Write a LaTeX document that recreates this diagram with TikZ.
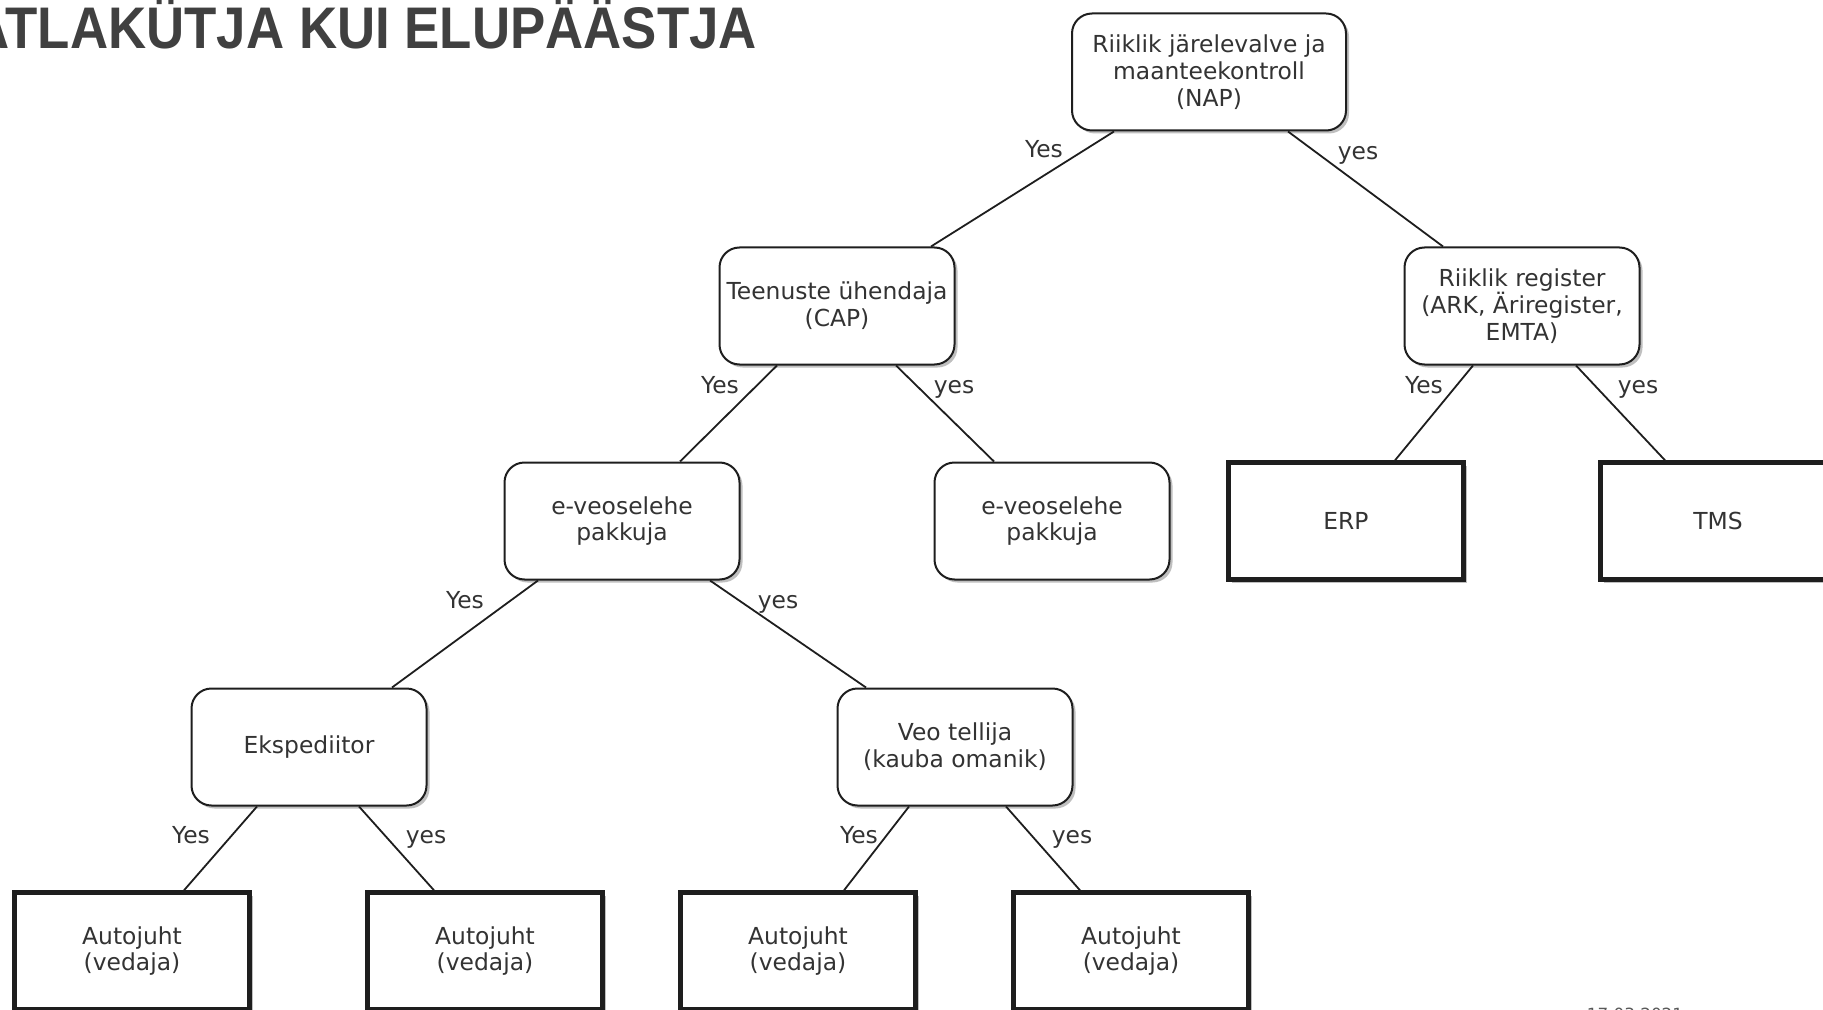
\documentclass[tikz,border=0pt]{standalone}
\usepackage{fontspec}
\setmainfont{DejaVu Sans}
\newfontfamily\titlefont{Liberation Sans}
\usetikzlibrary{calc,shadows}

\definecolor{inkgray}{HTML}{333333}
\definecolor{linegray}{HTML}{1E1E1E}
\definecolor{titlegray}{HTML}{404040}

\newcommand{\boxfont}{\fontsize{11.7}{13.4}\selectfont}

\tikzset{
  decision/.style={draw=linegray, line width=1pt, rounded corners=10pt, fill=white,
    minimum width=117.5pt, minimum height=58.5pt, align=center, text=inkgray,
    font=\boxfont, inner sep=2pt,
    drop shadow={shadow xshift=1.5pt, shadow yshift=-1.5pt, opacity=0.25, fill=black}},
  leaf/.style={decision, sharp corners, line width=2.2pt},
  edge/.style={draw=linegray, line width=0.9pt},
  lbl/.style={text=inkgray, font=\boxfont, inner sep=0pt}
}

\begin{document}
\begin{tikzpicture}[x=0.5pt,y=-0.5pt]
\useasboundingbox (0,0) rectangle (1823,1010);

% title, cut at the left edge
\node[anchor=base west, inner sep=0pt, text=titlegray] (title) at (-29,49)
  {\scalebox{0.9}[1]{\titlefont\bfseries\fontsize{29.35}{30}\selectfont ATLAKÜTJA KUI ELUPÄÄSTJA}};

% boxes
\node[decision, minimum width=137pt] (nap) at (1209,72) {Riiklik järelevalve ja\\maanteekontroll\\(NAP)};
\node[decision] (cap) at (837,306) {Teenuste ühendaja\\(CAP)};
\node[decision] (reg) at (1522,306) {Riiklik register\\(ARK, Äriregister,\\EMTA)};
\node[decision] (eveoa) at (622,521) {e-veoselehe\\pakkuja};
\node[decision] (eveob) at (1052,521) {e-veoselehe\\pakkuja};
\node[leaf] (erp) at (1346,521) {ERP};
\node[leaf] (tms) at (1718,521) {TMS};
\node[decision] (eksp) at (309,747) {Ekspediitor};
\node[decision] (veo) at (955,747) {Veo tellija\\(kauba omanik)};
\node[leaf] (aj1) at (132,951) {Autojuht\\(vedaja)};
\node[leaf] (aj2) at (485,951) {Autojuht\\(vedaja)};
\node[leaf] (aj3) at (798,951) {Autojuht\\(vedaja)};
\node[leaf] (aj4) at (1131,951) {Autojuht\\(vedaja)};

% connectors
\draw[edge] ($(nap.south)+(-95,0)$) -- ($(cap.north)+(94,0)$);
\draw[edge] ($(nap.south)+(79,0)$) -- ($(reg.north)+(-79,0)$);
\draw[edge] ($(cap.south)+(-60,0)$) -- ($(eveoa.north)+(58,0)$);
\draw[edge] ($(cap.south)+(59,0)$) -- ($(eveob.north)+(-58,0)$);
\draw[edge] ($(reg.south)+(-49,0)$) -- ($(erp.north)+(49,0)$);
\draw[edge] ($(reg.south)+(54,0)$) -- ($(tms.north)+(-53,0)$);
\draw[edge] ($(eveoa.south)+(-84,0)$) -- ($(eksp.north)+(83,0)$);
\draw[edge] ($(eveoa.south)+(88,0)$) -- ($(veo.north)+(-89,0)$);
\draw[edge] ($(eksp.south)+(-52,0)$) -- ($(aj1.north)+(52,0)$);
\draw[edge] ($(eksp.south)+(50,0)$) -- ($(aj2.north)+(-51,0)$);
\draw[edge] ($(veo.south)+(-46,0)$) -- ($(aj3.north)+(46,0)$);
\draw[edge] ($(veo.south)+(51,0)$) -- ($(aj4.north)+(-51,0)$);

% labels
\node[lbl] (l1) at (1044,149) {Yes};
\node[lbl] (l2) at (1358,155) {yes};
\node[lbl] (l3) at (720,385) {Yes};
\node[lbl] (l4) at (954,389) {yes};
\node[lbl] (l5) at (1424,385) {Yes};
\node[lbl] (l6) at (1638,389) {yes};
\node[lbl] (l7) at (465,600) {Yes};
\node[lbl] (l8) at (778,604) {yes};
\node[lbl] (l9) at (191,835) {Yes};
\node[lbl] (l10) at (426,839) {yes};
\node[lbl] (l11) at (859,835) {Yes};
\node[lbl] (l12) at (1072,839) {yes};

% date, cut at the bottom edge
\node[anchor=base, inner sep=0pt, text=black!65, font=\fontsize{8.4}{10}\selectfont] (date) at (1635,1020) {17.03.2021};
\end{tikzpicture}
\end{document}
